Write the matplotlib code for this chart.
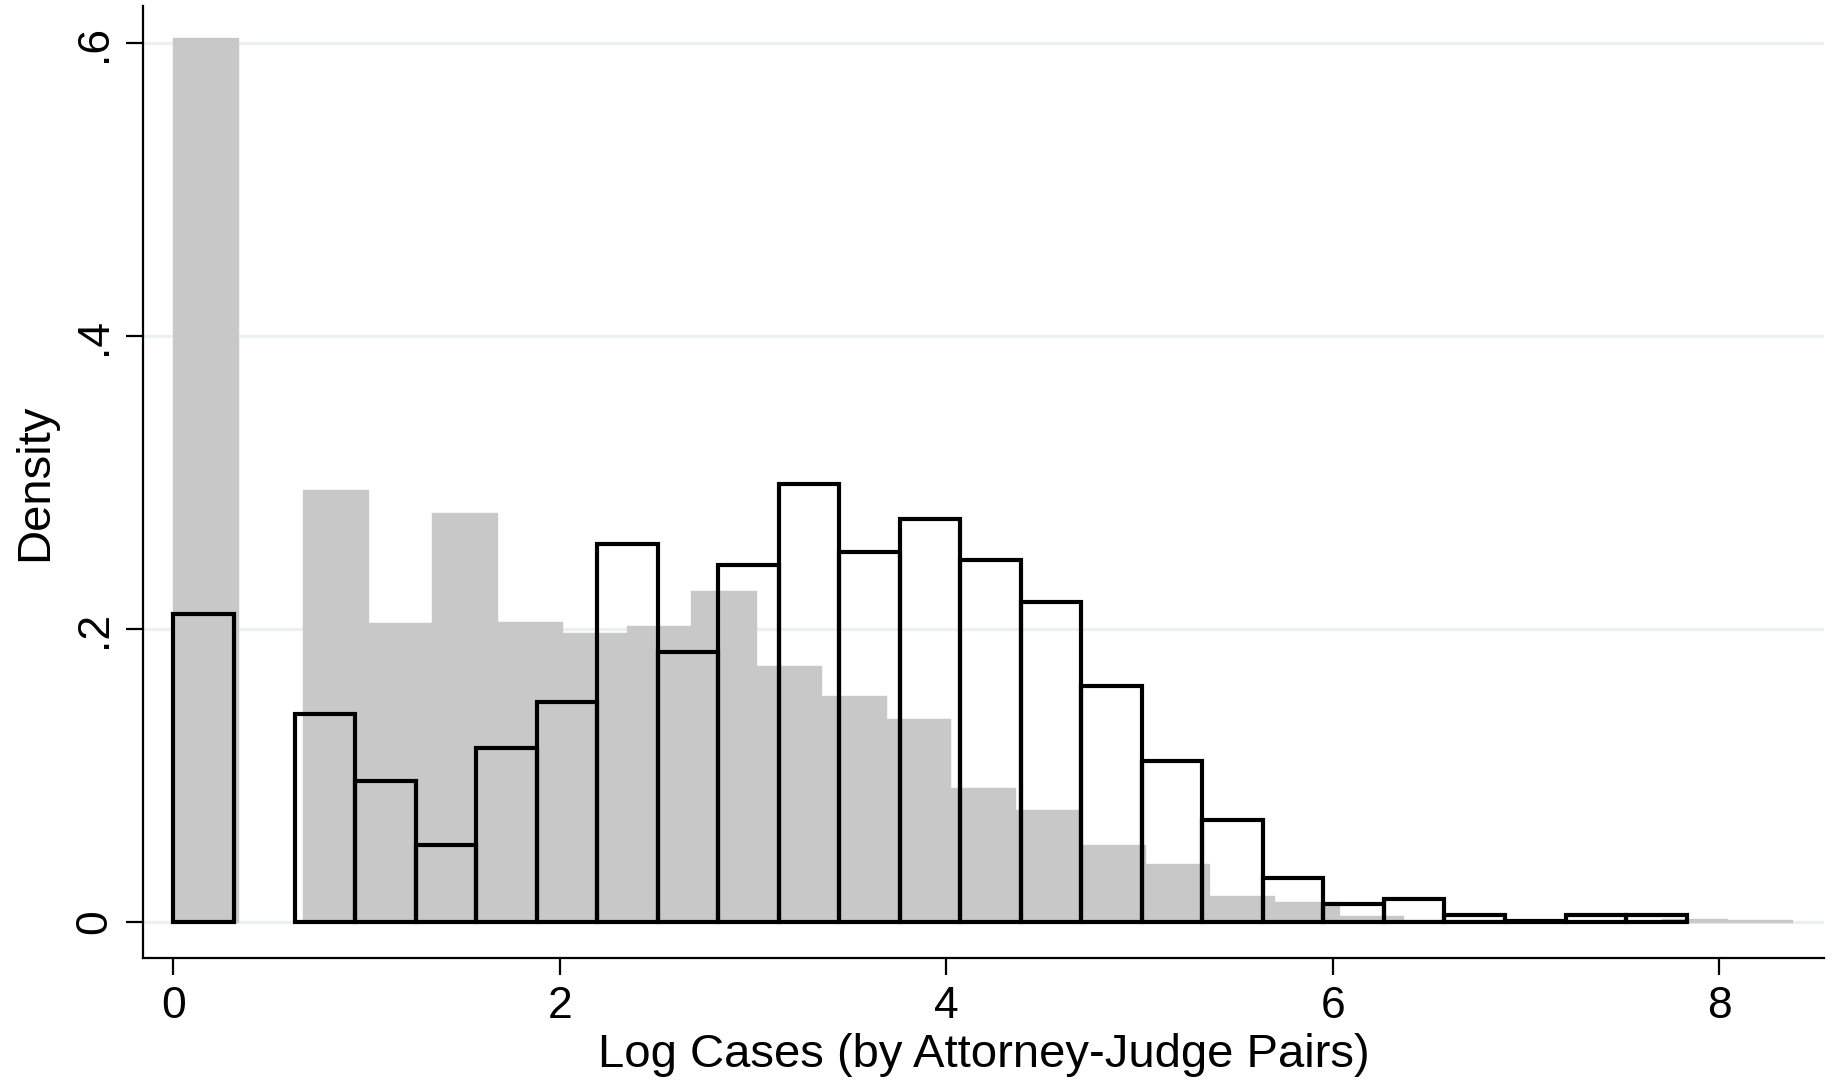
import numpy as np
import matplotlib
matplotlib.use("Agg")
import matplotlib.pyplot as plt

plt.rcParams['font.family'] = ['Liberation Sans', 'DejaVu Sans']

# grey (filled) histogram: 25 bins starting at 0
grey_width = 0.335
grey_density = [0.604, 0.0, 0.295, 0.204, 0.279, 0.205, 0.197, 0.202, 0.226,
                0.175, 0.154, 0.1385, 0.0915, 0.0767, 0.0524, 0.0392, 0.0176,
                0.0135, 0.004, 0.0015, 0.001, 0.0008, 0.0008, 0.002, 0.0015]

# outlined histogram: 25 bins starting at 0
line_width = 0.3132
line_density = [0.210, 0.0, 0.142, 0.096, 0.0522, 0.1186, 0.150, 0.258, 0.184,
                0.244, 0.299, 0.2526, 0.2755, 0.247, 0.2185, 0.1614, 0.110,
                0.0699, 0.0299, 0.0124, 0.0158, 0.0049, 0.0008, 0.0049, 0.0049]

yticks = [0, 0.2, 0.4, 0.6]
ytick_labels = ['0', '.2', '.4', '.6']
xticks = [0, 2, 4, 6, 8]

fig = plt.figure(figsize=(18.37, 10.87), dpi=100)
ax = fig.add_axes([0.0778, 0.1185, 0.915, 0.876])

for y in yticks:
    ax.axhline(y, color='#eaf1f2', lw=2.2, zorder=0)

g = np.array(grey_density)
gx = np.arange(len(g)) * grey_width
keep = g > 0
ax.bar(gx[keep], g[keep], width=grey_width, align='edge', color='#c8c8c8',
       edgecolor='#c8c8c8', linewidth=1.0, zorder=1)

o = np.array(line_density)
ox = np.arange(len(o)) * line_width
keep = o > 0
ax.bar(ox[keep], o[keep], width=line_width, align='edge', fill=False,
       edgecolor='black', linewidth=3.0, zorder=2)

ax.set_xlim(-0.158, 8.54)
ax.set_ylim(-0.0248, 0.6256)

for s in ['top', 'right']:
    ax.spines[s].set_visible(False)
for s in ['left', 'bottom']:
    ax.spines[s].set_linewidth(1.6)

ax.set_yticks(yticks)
ax.set_yticklabels(ytick_labels, rotation=90, va='center')
ax.set_xticks(xticks)
ax.tick_params(axis='both', length=12, width=1.6, labelsize=32, pad=8)

ax.set_xlabel('Log Cases (by Attorney-Judge Pairs)', fontsize=34, labelpad=4)
ax.set_ylabel('Density', fontsize=34, labelpad=12)

fig.savefig('out.png', dpi=100)
